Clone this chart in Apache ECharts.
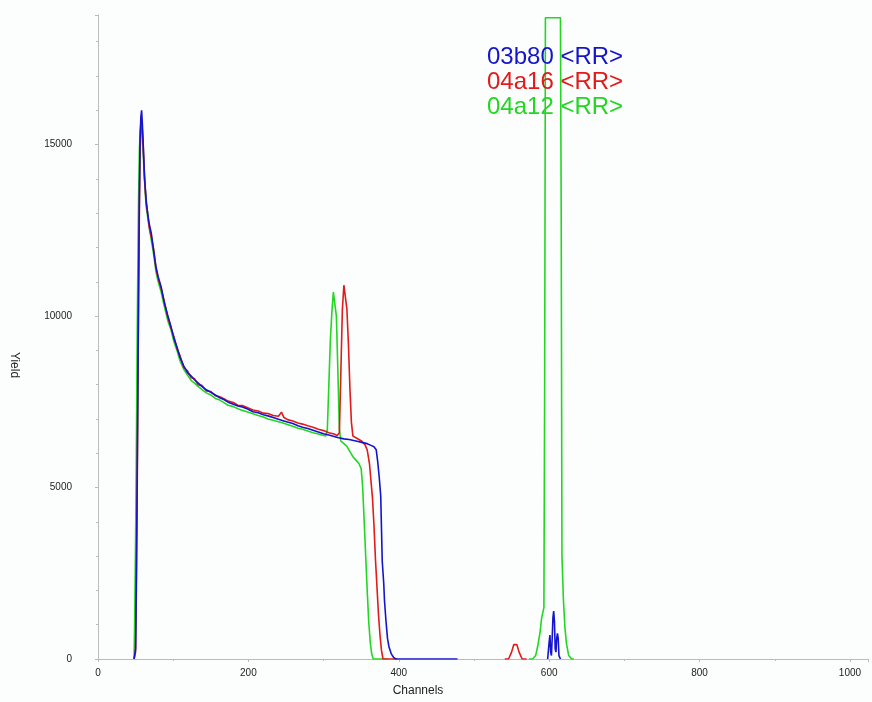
<!DOCTYPE html>
<html>
<head>
<meta charset="utf-8">
<script src="https://cdn.jsdelivr.net/npm/echarts@6/dist/echarts.min.js"></script>
<style>
  html, body { margin: 0; padding: 0; background: #fcfefe; }
  #chart { width: 872px; height: 702px; }
</style>
</head>
<body>
<div id="chart"></div>
<script>
// Spectra as [channel, yield] pairs; null breaks the trace where nothing is recorded.
const spec03b80 = [
  [48,0],[50,300],[51,2500],[52,5000],[53,8000],[54,11000],[55,13500],[56,15200],[57,15800],[58,16000],
  [59,15600],[60,15100],[61,14500],[62,14000],[64,13400],[66,13000],[68,12700],[71,12400],[74,11900],
  [77,11450],[80,11150],[84,10850],[88,10400],[93,10000],[97,9700],[101,9350],[105,9100],[109,8800],
  [114,8550],[119,8350],[124,8250],[128,8150],[133,8050],[138,7950],[144,7850],[150,7780],[156,7700],
  [162,7620],[168,7560],[173,7490],[180,7430],[186,7380],[192,7350],[199,7290],[206,7210],[213,7180],
  [220,7120],[226,7090],[233,7040],[240,6990],[246,6950],[252,6910],[259,6870],[266,6800],[272,6760],
  [279,6720],[286,6670],[293,6620],[300,6570],[307,6530],[314,6490],[320,6450],[327,6420],[334,6400],
  [340,6370],[346,6340],[352,6310],[358,6280],[363,6230],[367,6190],[370,6100],[372,5750],[374,5300],
  [376,4750],[377,3800],[378,2850],[380,2200],[381,1700],[383,1100],[385,600],[387,350],[390,150],
  [393,50],[396,0],[478,0],
  null,
  [598,0],[600,500],[601,700],[602,200],[603,100],[604,600],[605,1200],[606,1400],[607,1100],[608,300],
  [609,200],[610,600],[611,750],[612,600],[613,100],[615,0]
];

const spec04a16 = [
  [48,0],[50,200],[51,2000],[52,4500],[53,7500],[54,10500],[55,13000],[56,14800],[57,15500],[58,15700],
  [59,15400],[60,15000],[61,14500],[62,14000],[64,13300],[66,13000],[68,12600],[71,12300],[74,11950],
  [77,11400],[80,11100],[84,10800],[88,10450],[93,9950],[97,9650],[101,9400],[105,9050],[109,8850],
  [114,8500],[119,8400],[124,8200],[128,8180],[133,8000],[138,7980],[144,7820],[150,7800],[156,7680],
  [162,7650],[168,7580],[173,7520],[180,7480],[186,7400],[192,7390],[199,7330],[206,7260],[213,7230],
  [220,7170],[226,7160],[233,7100],[240,7080],[244,7200],[247,7050],[252,6980],[259,6940],[266,6880],
  [272,6850],[279,6800],[286,6760],[293,6700],[300,6660],[307,6600],[314,6560],[318,6520],[321,6600],
  [323,8400],[325,10200],[327,10900],[329,10850],[331,10200],[333,9200],[335,7900],[337,6900],[339,6500],
  [343,6450],[347,6400],[351,6350],[355,6250],[358,6100],[361,5700],[363,5200],[365,4700],[367,3900],
  [369,2900],[371,2100],[373,1300],[375,700],[377,250],[379,0],[398,0],
  null,
  [541,0],[546,0],[550,200],[553,420],[555,470],[557,420],[560,200],[564,0],[570,0]
];

const spec04a12 = [
  [48,0],[49,1500],[50,3500],[51,6000],[52,9000],[53,11500],[54,13500],[55,14800],[56,15400],[57,15600],
  [58,15500],[59,15200],[60,14800],[61,14300],[62,13900],[64,13200],[66,12900],[68,12600],[71,12200],
  [74,11800],[77,11300],[80,11000],[84,10700],[88,10300],[93,9850],[97,9600],[101,9250],[105,9000],
  [109,8700],[114,8450],[119,8280],[124,8120],[128,8050],[133,7950],[138,7860],[144,7760],[150,7700],
  [156,7600],[162,7550],[168,7470],[173,7400],[180,7360],[186,7300],[192,7250],[199,7200],[206,7150],
  [213,7100],[220,7060],[226,7000],[233,6960],[240,6920],[246,6880],[252,6840],[259,6790],[266,6730],
  [272,6700],[279,6650],[286,6600],[293,6560],[300,6520],[303,6500],[305,6700],[307,8000],[309,9300],
  [311,10100],[313,10700],[315,10650],[317,10000],[319,8400],[321,6700],[323,6350],[327,6280],[331,6200],
  [335,6050],[339,5900],[343,5800],[347,5700],[350,5550],[352,5000],[354,4000],[356,3000],[358,2000],
  [360,1100],[362,500],[364,150],[366,0],[385,0],
  null,
  [573,0],[578,0],[582,100],[585,400],[588,800],[590,1200],[593,1500],[594,8000],[595,18700],[615,18700],
  [616,13000],[617,3000],[619,1700],[621,900],[623,450],[626,100],[630,0],[633,0]
];

const xTicks = { min: 0, max: 1024, step: 200 };
const yTicks = { min: 0, max: 18780, step: 5000 };

const COLORS = { b: '#1414cc', r: '#e21a1a', g: '#22d622' };
const AXIS_GRAY = '#b8bcbc';
const FONT = '"Liberation Sans", Arial, sans-serif';

const chart = echarts.init(document.getElementById('chart'), null, { renderer: 'canvas' });

function trace(name, data, color) {
  return {
    name, type: 'line', data,
    showSymbol: false, symbol: 'none',
    connectNulls: false, animation: false,
    lineStyle: { color, width: 1.6 },
    itemStyle: { color },
    emphasis: { disabled: true }
  };
}

const plainNumber = v => String(v);

chart.setOption({
  backgroundColor: '#fcfefe',
  animation: false,
  textStyle: { fontFamily: FONT },
  grid: { left: 97, right: 4, top: 15, bottom: 41, containLabel: false },
  legend: {
    orient: 'vertical',
    left: 482, top: 45, padding: 0,
    itemWidth: 0, itemHeight: 0, itemGap: 1,
    icon: 'none',
    selectedMode: false,
    data: [
      { name: '03b80 <RR>', textStyle: { color: COLORS.b } },
      { name: '04a16 <RR>', textStyle: { color: COLORS.r } },
      { name: '04a12 <RR>', textStyle: { color: COLORS.g } }
    ],
    textStyle: { fontSize: 24, lineHeight: 24, padding: 0, fontFamily: FONT }
  },
  xAxis: {
    type: 'value',
    min: xTicks.min, max: xTicks.max, interval: xTicks.step,
    name: 'Channels', nameLocation: 'middle', nameGap: 26,
    nameTextStyle: { fontSize: 12, color: '#222', padding: [0, 130, 0, 0] },
    axisLine: { show: true, lineStyle: { color: AXIS_GRAY, width: 1 } },
    axisTick: { show: true, length: 3, lineStyle: { color: AXIS_GRAY } },
    minorTick: { show: true, splitNumber: 2, length: 2, lineStyle: { color: AXIS_GRAY } },
    axisLabel: { fontSize: 10, color: '#222', margin: 9, showMaxLabel: false, formatter: plainNumber },
    splitLine: { show: false }
  },
  yAxis: {
    type: 'value',
    min: yTicks.min, max: yTicks.max, interval: yTicks.step,
    name: 'Yield', nameLocation: 'middle', nameGap: 78, nameRotate: -90,
    nameTextStyle: { fontSize: 12, color: '#222', padding: [0, 0, 0, 56] },
    axisLine: { show: true, lineStyle: { color: AXIS_GRAY, width: 1 } },
    axisTick: { show: true, length: 3, lineStyle: { color: AXIS_GRAY } },
    minorTick: { show: true, splitNumber: 5, length: 2, lineStyle: { color: AXIS_GRAY } },
    axisLabel: { fontSize: 10, color: '#222', margin: 26, showMaxLabel: false, formatter: plainNumber },
    splitLine: { show: false }
  },
  series: [
    trace('04a12 <RR>', spec04a12, COLORS.g),
    trace('04a16 <RR>', spec04a16, COLORS.r),
    trace('03b80 <RR>', spec03b80, COLORS.b)
  ]
});
</script>
</body>
</html>
